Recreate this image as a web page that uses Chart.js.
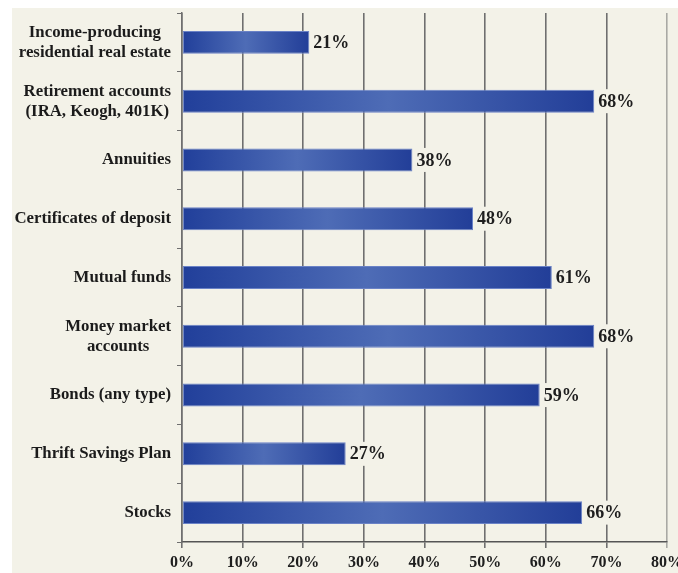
<!DOCTYPE html>
<html>
<head>
<meta charset="utf-8">
<script src="https://cdn.jsdelivr.net/npm/chart.js@4/dist/chart.umd.min.js"></script>
<style>
  html, body { margin: 0; padding: 0; background: #ffffff; }
  #wrap { width: 678px; height: 573px; position: relative; }
</style>
</head>
<body>
<div id="wrap"><canvas id="c" width="678" height="573"></canvas></div>
<script>
// Investment types (top to bottom) and share of respondents holding each
const categories = [
  ['Income-producing', 'residential real estate'],
  ['Retirement accounts', '(IRA, Keogh, 401K)'],
  ['Annuities'],
  ['Certificates of deposit'],
  ['Mutual funds'],
  ['Money market', 'accounts'],
  ['Bonds (any type)'],
  ['Thrift Savings Plan'],
  ['Stocks']
];
const shares = [21, 68, 38, 48, 61, 68, 59, 27, 66];
const axisMax = 80;
const axisStep = 10;

const PANEL = '#f3f2e8';
const SERIF = '"Liberation Serif", "Times New Roman", serif';

// Beige panel behind the whole chart
const panelPlugin = {
  id: 'panel',
  beforeDraw(chart) {
    const ctx = chart.ctx;
    ctx.save();
    ctx.fillStyle = PANEL;
    ctx.fillRect(12, 8, chart.width - 12, chart.height - 8);
    ctx.restore();
  }
};

// Category names: block right-aligned to the axis, lines centred within the block
const categoryLabelPlugin = {
  id: 'categoryLabels',
  afterDraw(chart) {
    const ctx = chart.ctx;
    const y = chart.scales.y;
    const rightEdge = y.right - 11;
    const lineH = 20;
    ctx.save();
    ctx.beginPath();
    ctx.rect(12, 8, chart.width - 12, chart.height - 8);
    ctx.clip();
    ctx.font = 'bold 16.8px ' + SERIF;
    ctx.fillStyle = '#1b1b1b';
    ctx.textAlign = 'center';
    ctx.textBaseline = 'middle';
    categories.forEach((lines, i) => {
      const cy = y.getPixelForValue(i);
      const w = Math.max(...lines.map(l => ctx.measureText(l).width));
      const cx = rightEdge - w / 2;
      const y0 = cy - (lines.length - 1) * lineH / 2;
      lines.forEach((l, k) => ctx.fillText(l, cx, y0 + k * lineH));
    });
    ctx.restore();
  }
};

// Percentage at the end of each bar, on a panel-coloured backing
const valueLabelPlugin = {
  id: 'valueLabels',
  afterDatasetsDraw(chart) {
    const ctx = chart.ctx;
    const meta = chart.getDatasetMeta(0);
    ctx.save();
    ctx.font = 'bold 18px ' + SERIF;
    ctx.textBaseline = 'middle';
    ctx.textAlign = 'left';
    meta.data.forEach((bar, i) => {
      const txt = shares[i] + '%';
      const w = ctx.measureText(txt).width;
      const x = bar.x + 4;
      ctx.fillStyle = PANEL;
      ctx.fillRect(x - 1, bar.y - 12, w + 3, 24);
      ctx.fillStyle = '#1e1e1e';
      ctx.fillText(txt, x, bar.y + 1);
    });
    ctx.restore();
  }
};

function barGradient(context) {
  const chart = context.chart;
  const { chartArea, scales } = chart;
  if (!chartArea) return '#3553a6';
  const v = shares[context.dataIndex];
  const x0 = scales.x.getPixelForValue(0);
  const x1 = scales.x.getPixelForValue(v);
  const g = chart.ctx.createLinearGradient(x0, 0, x1, 0);
  g.addColorStop(0, '#213f9a');
  g.addColorStop(0.5, '#4e6cb6');
  g.addColorStop(1, '#223e98');
  return g;
}

new Chart(document.getElementById('c'), {
  type: 'bar',
  data: {
    labels: categories,
    datasets: [{
      data: shares,
      backgroundColor: barGradient,
      borderColor: '#6a82c6',
      borderWidth: 1,
      borderSkipped: false,
      categoryPercentage: 1,
      barPercentage: 0.39
    }]
  },
  options: {
    indexAxis: 'y',
    responsive: false,
    animation: false,
    devicePixelRatio: 1,
    layout: { padding: { top: 13, right: 11, bottom: 0, left: 0 } },
    plugins: {
      legend: { display: false },
      tooltip: { enabled: false }
    },
    scales: {
      x: {
        min: 0,
        max: axisMax,
        ticks: {
          stepSize: axisStep,
          color: '#1e1e1e',
          font: { family: SERIF, size: 16, weight: 'bold' },
          padding: 5,
          callback: v => v + '%',
          maxRotation: 0
        },
        grid: {
          color: (c) => c.tick && c.tick.value === axisMax ? '#a9a9a4' : '#6f6f6f',
          lineWidth: 1.6,
          tickLength: 6,
          drawOnChartArea: true
        },
        border: { color: '#555555', width: 1.5 },
        afterFit(scale) {
          scale.height = 31;
          scale.paddingLeft = 0;
          scale.paddingRight = 0;
        }
      },
      y: {
        ticks: { display: false },
        grid: {
          offset: true,
          drawOnChartArea: false,
          color: '#6f6f6f',
          lineWidth: 1,
          tickLength: 5
        },
        border: { color: '#6f6f6f', width: 1.5 },
        afterFit(scale) {
          scale.width = 182;
          scale.paddingTop = 0;
          scale.paddingBottom = 0;
        }
      }
    }
  },
  plugins: [panelPlugin, categoryLabelPlugin, valueLabelPlugin]
});
</script>
</body>
</html>
